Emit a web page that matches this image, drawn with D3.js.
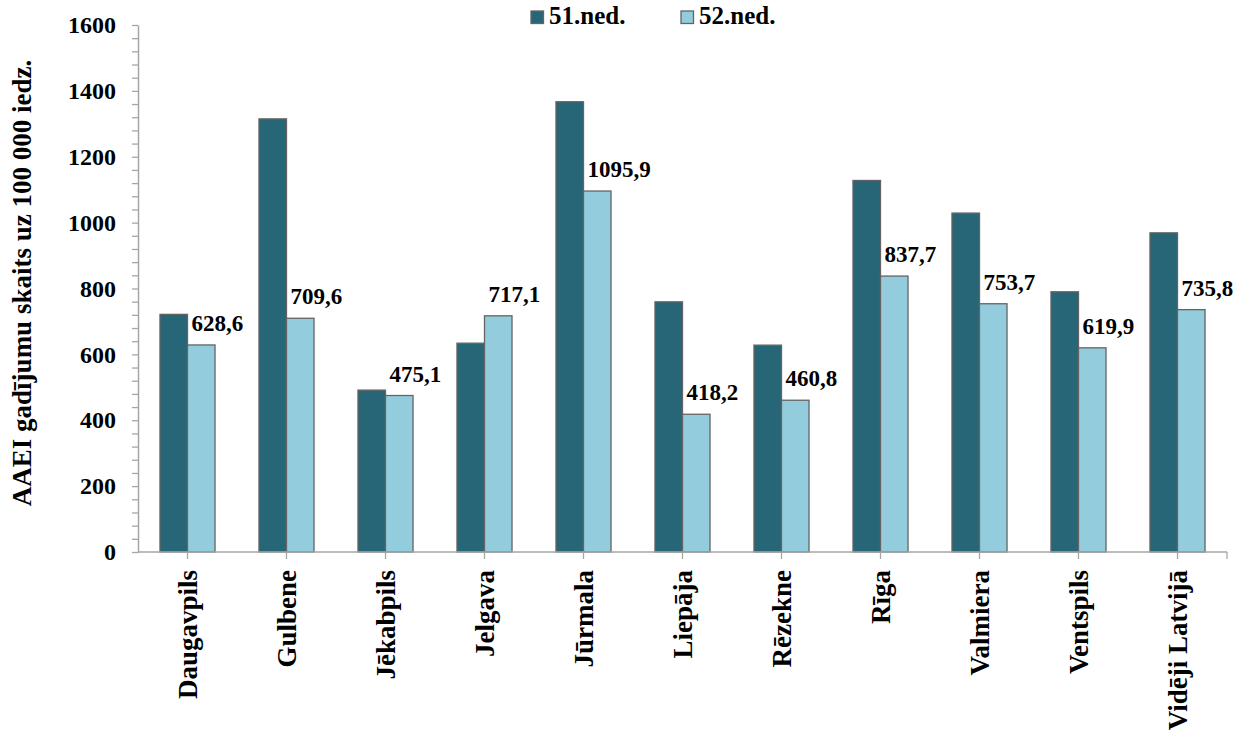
<!DOCTYPE html>
<html>
<head>
<meta charset="utf-8">
<script src="https://cdn.jsdelivr.net/npm/d3@7"></script>
<style>
  html, body { margin: 0; padding: 0; background: #fff; }
  svg { display: block; }
  svg text { font-family: 'Liberation Serif', 'Times New Roman', 'DejaVu Serif', serif !important; font-weight: bold; fill: #000; }
</style>
</head>
<body>
<svg id="chart" width="1248" height="735"></svg>
<script>
// AAEI cases per 100 000 inhabitants, weeks 51 and 52
const cities = ["Daugavpils", "Gulbene", "Jēkabpils", "Jelgava", "Jūrmala", "Liepāja",
                "Rēzekne", "Rīga", "Valmiera", "Ventspils", "Vidēji Latvijā"];
const week51 = [721.5, 1315.0, 491.5, 634.0, 1367.0, 759.5, 628.0, 1128.0, 1029.0, 790.0, 969.0];
const week52 = [628.6, 709.6, 475.1, 717.1, 1095.9, 418.2, 460.8, 837.7, 753.7, 619.9, 735.8];
const seriesNames = ["51.ned.", "52.ned."];
const yTicks = [0, 200, 400, 600, 800, 1000, 1200, 1400, 1600];
const yTitle = "AAEI gadījumu skaits uz 100 000 iedz.";

const colors = ["#266676", "#93CDDD"];
const strokeCol = "#646464";
const axisCol = "#a6a6a6";
const serif = "'Liberation Serif', 'Times New Roman', 'DejaVu Serif', serif";

const svg = d3.select("#chart");
const plotLeft = 138, plotRight = 1227, plotTop = 25, plotBottom = 552;

const y = d3.scaleLinear().domain([0, 1600]).range([plotBottom, plotTop]);
const x0 = d3.scaleBand().domain(cities).range([plotLeft, plotRight])
  .paddingInner(0.444).paddingOuter(0.222);
const x1 = d3.scaleBand().domain([0, 1]).range([0, x0.bandwidth()]);

const rows = cities.map((c, i) => ({ city: c, vals: [week51[i], week52[i]] }));

// bars
const groups = svg.append("g").selectAll("g").data(rows).join("g")
  .attr("transform", d => `translate(${x0(d.city)},0)`);
groups.selectAll("rect").data(d => d.vals.map((v, k) => ({ v, k }))).join("rect")
  .attr("x", d => x1(d.k))
  .attr("y", d => y(d.v))
  .attr("width", x1.bandwidth())
  .attr("height", d => y(0) - y(d.v))
  .attr("fill", d => colors[d.k])
  .attr("stroke", strokeCol)
  .attr("stroke-width", 1.3);

// value labels for week 52
groups.append("text")
  .attr("x", d => x1(1) + 4)
  .attr("y", d => y(d.vals[1]) - 14)
  .attr("font-size", 23)
  .text(d => d3.format(".1f")(d.vals[1]).replace(".", ","));

// y axis with minor ticks every 40
const yAxis = d3.axisLeft(y)
  .tickValues(d3.range(0, 1601, 40))
  .tickFormat(d => yTicks.includes(d) ? d : "")
  .tickSizeInner(6).tickSizeOuter(0).tickPadding(16);
const gy = svg.append("g").attr("transform", `translate(${plotLeft},0)`).call(yAxis)
  .attr("font-family", serif);
gy.select(".domain").attr("stroke", axisCol).attr("stroke-width", 1.5);
gy.selectAll(".tick line").attr("stroke", axisCol).attr("stroke-width", 1.3);
gy.selectAll(".tick text").attr("font-size", 24).attr("fill", "#000");

// x axis
const gx = svg.append("g").attr("transform", `translate(0,${plotBottom})`);
gx.append("line").attr("x1", plotLeft).attr("x2", plotRight).attr("y1", 0).attr("y2", 0)
  .attr("stroke", axisCol).attr("stroke-width", 1.5);
const tickXs = cities.map(c => x0(c) + x0.bandwidth() / 2).concat([plotRight]);
gx.selectAll("line.tk").data(tickXs).join("line").attr("class", "tk")
  .attr("x1", d => d).attr("x2", d => d).attr("y1", 0).attr("y2", 7)
  .attr("stroke", axisCol).attr("stroke-width", 1.3);
gx.selectAll("text").data(cities).join("text")
  .attr("transform", d => `translate(${x0(d) + x0.bandwidth() / 2},${18}) rotate(-90)`)
  .attr("text-anchor", "end")
  .attr("dy", "0.35em")
  .attr("font-size", 27)
  .text(d => d);

// y axis title
svg.append("text")
  .attr("transform", `translate(22,${283}) rotate(-90)`)
  .attr("text-anchor", "middle")
  .attr("dy", "0.35em")
  .attr("font-size", 27)
  .text(yTitle);

// legend
const legendX = [531, 681];
const lg = svg.append("g").selectAll("g").data(seriesNames).join("g")
  .attr("transform", (d, i) => `translate(${legendX[i]},11)`);
lg.append("rect").attr("width", 12.5).attr("height", 12.5)
  .attr("fill", (d, i) => colors[i]).attr("stroke", strokeCol).attr("stroke-width", 1.3);
lg.append("text").attr("x", 18).attr("y", 13).attr("font-size", 25).text(d => d);
</script>
</body>
</html>
